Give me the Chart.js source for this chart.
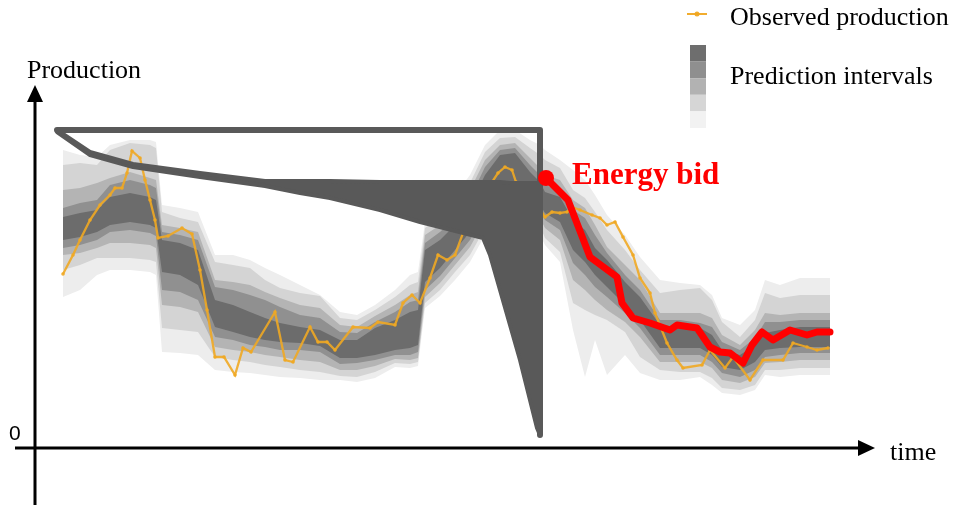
<!DOCTYPE html>
<html>
<head>
<meta charset="utf-8">
<script src="https://cdn.jsdelivr.net/npm/chart.js@4.4.0/dist/chart.umd.min.js"></script>
<style>
  html, body { margin: 0; padding: 0; background: #fff; }
  #wrap { width: 970px; height: 505px; position: relative; }
</style>
</head>
<body>
<div id="wrap"><canvas id="chart"></canvas></div>
<script>
// time in steps, production in kW (no ticks shown on the original)
const bandTime = [0,1.7,3.4,4.7,6.7,8.7,9.3,9.9,11.7,13.5,15.2,17,18.7,20.2,21.7,23.7,25.7,27.7,29.4,31.2,33.2,34.7,35.5,36.2,37.7,39.2,40.7,42.2,43.7,45.2,46.7,47.7,48.2,49.7,51,52.2,53.2,54.4,56.2,57.7,59.7,61.7,63.7,64.9,65.9,67.7,69.2,70.2,71.7,73.7,76.7];

// prediction interval bounds, outer to inner
const upper90 = [298,293,291,303,308,308,306,243,240,236,193,193,188,180,173,163,153,136,133,143,158,173,176,226,238,253,273,303,318,318,308,303,298,288,278,268,253,233,213,191,168,165,163,153,130,123,138,168,163,170,170];
const upper80 = [283,285,283,298,305,303,300,236,230,226,186,183,180,168,160,155,152,130,128,138,151,163,166,220,231,246,265,296,310,311,300,293,288,280,258,250,236,218,198,178,155,158,160,148,126,111,128,155,150,153,153];
const upper60 = [258,260,265,270,276,270,268,223,220,216,168,166,163,156,150,143,140,123,121,132,143,153,156,213,223,238,258,288,303,305,290,280,273,268,248,240,223,201,183,168,135,135,135,130,113,103,118,135,133,135,135];
const upper40 = [240,245,248,263,268,263,260,216,213,208,161,158,153,148,141,133,130,116,115,126,136,146,148,205,216,230,250,281,298,300,283,273,263,258,238,230,213,195,173,158,128,128,125,121,106,98,110,126,126,128,128];
const upper20 = [231,235,238,251,255,251,248,208,205,198,148,143,136,130,125,121,118,108,108,120,128,136,138,198,208,223,243,273,293,295,276,266,256,251,228,218,200,188,166,151,123,121,120,113,98,93,103,115,118,121,121];
const lower20 = [208,211,216,223,226,223,220,176,173,163,121,116,111,108,106,105,102,90,90,93,98,100,103,166,180,198,216,243,263,266,253,243,235,226,198,186,173,161,143,128,100,100,100,93,81,78,86,98,100,101,101];
const lower40 = [200,203,208,216,218,215,212,158,156,148,111,108,103,101,98,98,96,84,85,88,93,93,96,158,172,190,208,235,253,256,246,236,228,218,185,173,161,151,135,120,93,93,93,86,75,71,78,91,93,95,95];
const lower60 = [193,195,200,205,205,203,200,143,141,136,101,98,96,93,91,88,86,78,78,82,89,88,90,151,165,183,201,228,243,246,240,230,220,208,168,158,148,138,126,111,86,86,86,80,68,65,71,85,86,88,88];
const lower80 = [178,183,190,190,190,188,186,120,118,116,91,88,86,83,81,78,76,72,71,76,85,84,86,145,158,176,193,220,233,236,233,222,210,196,145,138,133,128,116,91,78,76,76,70,60,58,63,78,78,80,80];
const lower90 = [151,158,173,178,178,176,173,96,95,93,78,76,75,73,71,70,68,68,66,70,81,80,82,140,152,168,186,213,223,228,226,213,203,186,118,71,108,73,93,75,68,68,71,63,55,53,58,73,71,73,73];

const obsTime = [0,1,1.7,2.7,3.7,4.7,5.2,5.9,6.4,6.9,7.7,8.2,8.7,9.2,9.5,10.5,11.9,12.9,13.7,14.4,15.2,16.1,17.2,18,18.8,21.2,22.2,23,24.7,25.5,26.4,27.2,29,30.7,31.5,33.2,34,34.9,35.7,36.7,37.5,38.4,39.2,40,40.8,41.6,42.3,42.9,43.5,44.2,44.9,45.3,46.2,47.4,48.2,48.9,49.7,50.4,50.9,51.7,52.9,53.7,54.4,55.2,56,57,57.7,58.7,59.2,60.4,61.4,62,63.9,64.7,66.2,67,68.7,70,72,73,74.4,75.4,76.5];
const obsValue = [174,193,208,228,243,253,260,260,275,297,290,268,248,228,210,212,220,214,178,138,91,91,73,100,96,136,88,86,121,106,106,98,121,120,126,123,145,153,145,170,193,188,193,215,228,243,255,266,275,281,278,266,253,243,231,236,235,236,241,238,233,230,223,226,211,193,170,155,135,105,88,80,83,98,80,91,68,88,88,105,101,98,100];

const bidTime = [48.3,50.5,52.7,55.4,55.9,57,58.7,60.7,61.4,63.4,64.7,65.7,66.7,68,68.9,69.9,71,72.7,74.4,75.4,76.7];
const bidValue = [270,248,191,171,145,130,125,118,123,120,101,96,95,85,103,116,108,118,113,116,116];

// sketched distribution of production at the bid time
const frameTime = [-0.6,47.7,47.7];
const frameValue = [318,318,13];
const densityTime = [-0.6,2.7,7,13.7,20.2,23.7,26.7,31.7,35.7,42,42.7,43.7,44.7,45.7,46.7,47.4,47.7];
const densityUpper = [318,296,284,275,267,267,267,266,266,266,266,266,265,265,265,265,265];
const densityLower = [316,293,281,271,262,255,250,238,226,210,193,158,123,88,48,20,13];

const bandColors = ['#ededed', '#d4d4d4', '#b4b4b4', '#909090', '#6c6c6c'];
const legendSwatches = ['#6e6e6e', '#8f8f8f', '#b2b2b2', '#d6d6d6', '#f2f2f2'];
const axisOrigin = -2.8;

const pts = (xs, ys) => xs.map((t, i) => ({ x: t, y: ys[i] }));

const bandPairs = [
  [upper90, lower90], [upper80, lower80], [upper60, lower60], [upper40, lower40], [upper20, lower20]
];
const datasets = [];
bandPairs.forEach(([hi, lo], k) => {
  datasets.push({ data: pts(bandTime, hi), borderWidth: 0, pointRadius: 0, fill: false, order: 20 - k });
  datasets.push({ data: pts(bandTime, lo), borderWidth: 0, pointRadius: 0, fill: '-1',
    backgroundColor: bandColors[k], order: 20 - k });
});
datasets.push({
  data: pts(obsTime, obsValue), borderColor: 'rgba(240,168,35,0.9)', borderWidth: 2.3,
  pointRadius: 1.8, pointBackgroundColor: 'rgba(240,168,35,0.9)', pointBorderWidth: 0, order: 5
});
datasets.push({ data: pts(densityTime, densityUpper), borderColor: '#595959', borderWidth: 4, pointRadius: 0, order: 3 });
datasets.push({ data: pts(densityTime, densityLower), borderColor: '#595959', borderWidth: 4, pointRadius: 0,
  fill: '-1', backgroundColor: '#595959', order: 3, borderCapStyle: 'round', borderJoinStyle: 'round' });
datasets.push({ data: pts(frameTime, frameValue), borderColor: '#595959', borderWidth: 6, pointRadius: 0,
  borderJoinStyle: 'round', borderCapStyle: 'round', order: 2 });
datasets.push({ data: pts(bidTime, bidValue), borderColor: '#ff0000', borderWidth: 7, pointRadius: 0,
  borderJoinStyle: 'round', borderCapStyle: 'round', order: 1 });
datasets.push({ data: pts(bidTime.slice(0, 1), bidValue.slice(0, 1)), showLine: false, pointRadius: 8,
  pointBackgroundColor: '#ff0000', pointBorderWidth: 0, order: 0 });

const decor = {
  id: 'decor',
  afterDraw(chart) {
    const { ctx, scales: { x, y } } = chart;
    const x0 = x.getPixelForValue(axisOrigin);
    const y0 = y.getPixelForValue(0);
    const xEnd = x.getPixelForValue(81.2);
    const yTop = y.getPixelForValue(363);
    ctx.save();
    ctx.strokeStyle = '#000';
    ctx.fillStyle = '#000';
    ctx.lineWidth = 3;
    ctx.beginPath();
    ctx.moveTo(x0, chart.height);
    ctx.lineTo(x0, yTop + 14);
    ctx.moveTo(x0 - 20, y0);
    ctx.lineTo(xEnd - 14, y0);
    ctx.stroke();
    ctx.beginPath();
    ctx.moveTo(x0, yTop);
    ctx.lineTo(x0 - 8, yTop + 17);
    ctx.lineTo(x0 + 8, yTop + 17);
    ctx.closePath();
    ctx.moveTo(xEnd, y0);
    ctx.lineTo(xEnd - 17, y0 - 8);
    ctx.lineTo(xEnd - 17, y0 + 8);
    ctx.closePath();
    ctx.fill();

    ctx.textBaseline = 'alphabetic';
    ctx.font = '26px "Liberation Serif", "Times New Roman", serif';
    ctx.fillText('Production', x0 - 8, yTop - 7);
    ctx.fillText('time', xEnd + 15, y0 + 12);
    ctx.font = '21px "Liberation Sans", Arial, sans-serif';
    ctx.fillText('0', x0 - 26, y0 - 8);

    ctx.fillStyle = '#ff0000';
    ctx.font = 'bold 31px "Liberation Serif", "Times New Roman", serif';
    const bx = x.getPixelForValue(bidTime[0]);
    const by = y.getPixelForValue(bidValue[0]);
    ctx.fillText('Energy bid', bx + 26, by + 6);

    // legend
    ctx.strokeStyle = 'rgba(240,168,35,0.95)';
    ctx.fillStyle = 'rgba(240,168,35,0.95)';
    ctx.lineWidth = 2;
    ctx.beginPath();
    ctx.moveTo(687, 14);
    ctx.lineTo(707, 14);
    ctx.stroke();
    ctx.beginPath();
    ctx.arc(697, 14, 2.5, 0, Math.PI * 2);
    ctx.fill();
    legendSwatches.forEach((c, i) => {
      ctx.fillStyle = c;
      ctx.fillRect(690, 45 + i * 16.6, 16, 16.6);
    });
    ctx.fillStyle = '#000';
    ctx.font = '26px "Liberation Serif", "Times New Roman", serif';
    ctx.fillText('Observed production', 730, 25);
    ctx.fillText('Prediction intervals', 730, 84);
    ctx.restore();
  }
};

new Chart(document.getElementById('chart'), {
  type: 'line',
  data: { datasets },
  options: {
    responsive: true,
    maintainAspectRatio: false,
    animation: false,
    layout: { padding: 0, autoPadding: false },
    elements: { line: { tension: 0 } },
    scales: {
      x: { type: 'linear', min: -6.3, max: 90.7, display: false },
      y: { type: 'linear', min: -57, max: 448, display: false }
    },
    plugins: { legend: { display: false }, tooltip: { enabled: false } }
  },
  plugins: [decor]
});
</script>
</body>
</html>
